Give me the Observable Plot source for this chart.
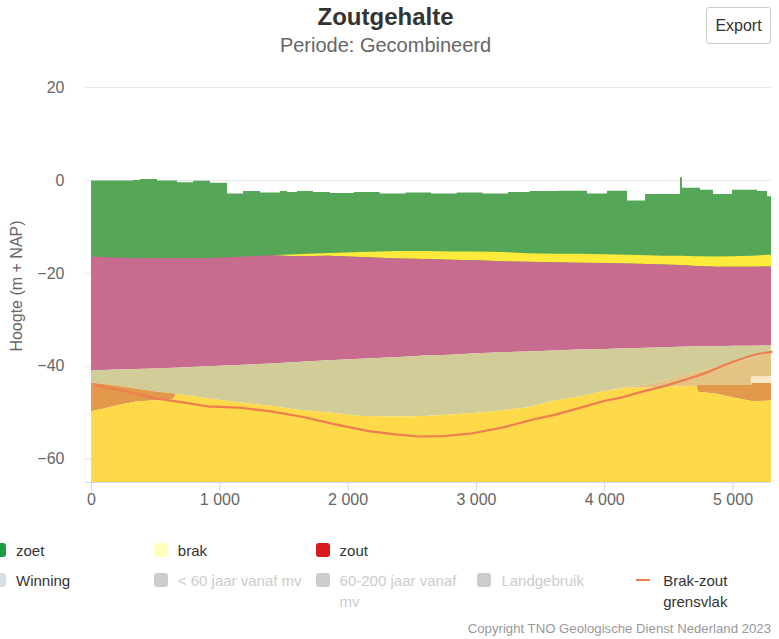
<!DOCTYPE html>
<html><head><meta charset="utf-8">
<script src="https://cdn.jsdelivr.net/npm/d3@7"></script>
<script src="https://cdn.jsdelivr.net/npm/@observablehq/plot@0.6"></script>
<style>
body{margin:0;background:#fff;}
#wrap{position:relative;width:779px;height:639px;overflow:hidden;font-family:"Liberation Sans",Arial,Helvetica,sans-serif;}
#title{position:absolute;left:0;width:771px;top:3px;text-align:center;font-size:24px;font-weight:bold;color:#333;}
#subtitle{position:absolute;left:0;width:771px;top:34px;text-align:center;font-size:20px;color:#666;}
#export{position:absolute;left:706px;top:7px;width:65px;height:37px;border:1px solid #ccc;border-radius:3px;box-sizing:border-box;text-align:center;line-height:35px;font-size:16px;color:#333;background:#fff;}
#chart{position:absolute;left:0;top:0;}
#ytitle{position:absolute;left:-83px;top:276px;width:200px;text-align:center;font-size:16px;color:#666;transform:rotate(-90deg);transform-origin:100px 10px;line-height:20px;}
.li{position:absolute;font-size:15px;line-height:21px;white-space:pre;}
.sym{position:absolute;}
#credit{position:absolute;right:8px;top:621px;font-size:13.2px;color:#999;}
</style></head><body>
<div id="wrap">
 <div id="chart"></div>
 <div id="title">Zoutgehalte</div>
 <div id="subtitle">Periode: Gecombineerd</div>
 <div id="export">Export</div>
 <div id="ytitle">Hoogte (m + NAP)</div>
 <div id="legend"></div>
 <div id="credit">Copyright TNO Geologische Dienst Nederland 2023</div>
</div>
<script>
// ---- data ----
const xTicks = [0, 1000, 2000, 3000, 4000, 5000];
const yTicks = [20, 0, -20, -40, -60];

// maaiveld (top of zoet layer), step-wise
const surfX = [0, 327, 382, 514, 670, 795, 927, 1060, 1185, 1317, 1473, 1528, 1606, 1730, 1863, 2050, 2250, 2450, 2650, 2850, 3050, 3250, 3421, 3632, 3866, 4022, 4178, 4318, 4591, 4606, 4747, 4848, 4996, 5191, 5269, 5300];
const surfY = [-0.1, 0.0, 0.2, -0.1, -0.5, -0.2, -0.6, -2.9, -2.4, -2.7, -2.4, -2.6, -2.4, -2.6, -2.8, -2.6, -2.9, -2.7, -2.9, -2.7, -2.9, -2.6, -2.4, -2.3, -2.9, -2.3, -4.4, -3.0, 0.6, -1.7, -2.1, -3.0, -2.1, -2.4, -3.5, -3.5];

// layer boundaries along the section
const xs    = [0, 100, 200, 350, 500, 640, 660, 900, 1100, 1400, 1600, 1850, 2100, 2400, 2600, 2800, 3000, 3200, 3400, 3600, 3800, 4000, 4180, 4330, 4460, 4590, 4720, 4730, 4880, 5000, 5140, 5150, 5270, 5300];
const zoetBottom = [-16.5, -16.6, -16.7, -16.8, -16.8, -16.8, -16.8, -16.8, -16.6, -16.2, -16.0, -15.7, -15.5, -15.3, -15.3, -15.4, -15.4, -15.5, -15.8, -15.9, -15.9, -16.0, -16.1, -16.2, -16.3, -16.3, -16.4, -16.4, -16.5, -16.4, -16.3, -16.3, -16.1, -16.1];
const brakBottom = [-16.5, -16.6, -16.7, -16.8, -16.8, -16.8, -16.8, -16.8, -16.6, -16.2, -16.4, -16.3, -16.6, -16.9, -17.0, -17.2, -17.3, -17.5, -17.6, -17.7, -17.8, -17.9, -18.0, -18.1, -18.2, -18.3, -18.5, -18.5, -18.7, -18.7, -18.7, -18.7, -18.6, -18.6];
const pinkBottom = [-41.0, -40.9, -40.8, -40.7, -40.6, -40.4, -40.4, -40.1, -39.9, -39.5, -39.2, -38.8, -38.5, -38.1, -37.8, -37.6, -37.3, -37.1, -36.9, -36.7, -36.5, -36.4, -36.2, -36.1, -36.0, -35.9, -35.8, -35.8, -35.8, -35.7, -35.7, -35.7, -35.6, -35.6];
const khakiBottom = [-43.6, -43.9, -44.3, -44.9, -45.5, -45.9, -46.0, -47.0, -47.7, -48.6, -49.4, -50.0, -50.8, -50.9, -50.8, -50.5, -50.1, -49.6, -48.9, -47.5, -46.6, -45.4, -44.4, -44.0, -43.1, -42.1, -41.2, -41.1, -40.3, -39.4, -38.3, -38.2, -37.3, -37.0];
const tanBottom = [-43.6, -43.9, -44.3, -44.9, -45.5, -45.9, -46.0, -47.0, -47.7, -48.6, -49.4, -50.0, -50.8, -50.9, -50.8, -50.5, -50.1, -49.6, -48.9, -47.5, -46.6, -45.4, -44.7, -44.7, -44.6, -44.4, -44.3, -44.1, -44.1, -44.1, -44.1, -42.3, -42.3, -42.3];
const creamBottom = [-43.6, -43.9, -44.3, -44.9, -45.5, -45.9, -46.0, -47.0, -47.7, -48.6, -49.4, -50.0, -50.8, -50.9, -50.8, -50.5, -50.1, -49.6, -48.9, -47.5, -46.6, -45.4, -44.7, -44.7, -44.6, -44.4, -44.3, -44.1, -44.1, -44.1, -44.1, -43.7, -43.7, -43.7];
const orangeBottom = [-49.8, -49.2, -48.5, -47.7, -47.4, -47.2, -46.0, -47.0, -47.7, -48.6, -49.4, -50.0, -50.8, -50.9, -50.8, -50.5, -50.1, -49.6, -48.9, -47.5, -46.6, -45.4, -44.7, -44.7, -44.6, -44.4, -44.3, -45.6, -46.0, -46.8, -47.5, -47.7, -47.5, -47.4];

// Brak-zout grensvlak
const lineX = [30, 250, 500, 700, 900, 1150, 1400, 1650, 1900, 2150, 2350, 2550, 2750, 2950, 3200, 3450, 3600, 3800, 4000, 4120, 4300, 4470, 4650, 4800, 4900, 5000, 5110, 5200, 5300];
const lineY = [-44.1, -45.3, -46.9, -47.7, -48.6, -48.9, -49.7, -50.9, -52.5, -53.9, -54.6, -55.1, -55.0, -54.5, -53.2, -51.4, -50.5, -49.0, -47.4, -46.8, -45.4, -44.2, -42.7, -41.3, -40.1, -39.0, -38.0, -37.3, -36.9];

// legend
const legendNames = ["zoet", "brak", "zout", "Winning", "< 60 jaar vanaf mv", "60-200 jaar vanaf\nmv", "Landgebruik", "Brak-zout\ngrensvlak"];
const legendColors = ["#1f9a40", "#ffffbf", "#d7191c", "#d3e0ea", "#cccccc", "#cccccc", "#cccccc", "#ee7d50"];
const legendActive = [true, true, true, true, false, false, false, true];
const legendShape = ["square", "square", "square", "square", "square", "square", "square", "line"];

// ---- build ----
const surf = surfX.map((x, i) => ({x, y: surfY[i]}));
const table = xs.map((x, i) => ({x, G: zoetBottom[i], Yb: brakBottom[i], P: pinkBottom[i], K: khakiBottom[i], T: tanBottom[i], C: creamBottom[i], O: orangeBottom[i]}));
const line = lineX.map((x, i) => ({x, y: lineY[i]}));
const band = (y1, y2, fill) => Plot.areaY(table, {x: "x", y1, y2, fill, curve: "linear"});
const fmt = d => d3.format(",")(d).replace(/,/g, " ");

const chart = Plot.plot({
  width: 779, height: 520,
  marginLeft: 85, marginRight: 8, marginTop: 87, marginBottom: 38,
  style: {fontFamily: '"Liberation Sans", Arial, sans-serif', fontSize: "16px", background: "transparent", overflow: "visible"},
  x: {domain: [-47, 5300]},
  y: {domain: [-65, 20]},
  marks: [
    Plot.gridY(yTicks, {stroke: "#e6e6e6", strokeOpacity: 1}),
    Plot.areaY(surf, {x: "x", y1: "y", y2: -25, fill: "#56a658", curve: "step-after"}),
    band("G", "Yb", "#fceb3b"),
    band("Yb", "P", "#c76c8f"),
    band("P", "K", "#d2cd98"),
    band("K", "T", "#e4c485"),
    band("T", "C", "#fbe8c8"),
    band("C", "O", "#e3994c"),
    band("O", -65, "#fed94a"),
    Plot.line(line, {x: "x", y: "y", stroke: "#ee7d50", strokeWidth: 2.2, curve: "linear"}),
    Plot.ruleY([-65], {stroke: "#ccd6eb"}),
    Plot.axisX({ticks: xTicks, tickFormat: fmt, tickSize: 9, tickPadding: 2, stroke: "#ccd6eb", strokeOpacity: 1, fill: "#666", label: null}),
    Plot.axisY({ticks: yTicks, tickSize: 0, tickPadding: 21, fill: "#666", label: null})
  ]
});
document.getElementById("chart").appendChild(chart);

// legend
const legend = document.getElementById("legend");
legendNames.forEach((name, i) => {
  const row = i < 3 ? 0 : 1;
  const col = i < 3 ? i : i - 3;
  const tx = 16 + col * 161.8;
  const cy = 550 + row * 30;
  const t = document.createElement("div");
  t.className = "li";
  t.textContent = name;
  t.style.left = tx + "px";
  t.style.top = (cy - 10.5) + "px";
  t.style.color = legendActive[i] ? "#333" : "#cccccc";
  legend.appendChild(t);
  const s = document.createElement("div");
  s.className = "sym";
  if (legendShape[i] === "line") {
    s.style.left = (tx - 27) + "px"; s.style.top = (cy - 1) + "px";
    s.style.width = "14px"; s.style.height = "2px";
  } else {
    s.style.left = (tx - 24) + "px"; s.style.top = (cy - 7) + "px";
    s.style.width = "14px"; s.style.height = "14px"; s.style.borderRadius = "3px";
  }
  s.style.background = legendColors[i];
  legend.appendChild(s);
});
</script>
</body></html>
